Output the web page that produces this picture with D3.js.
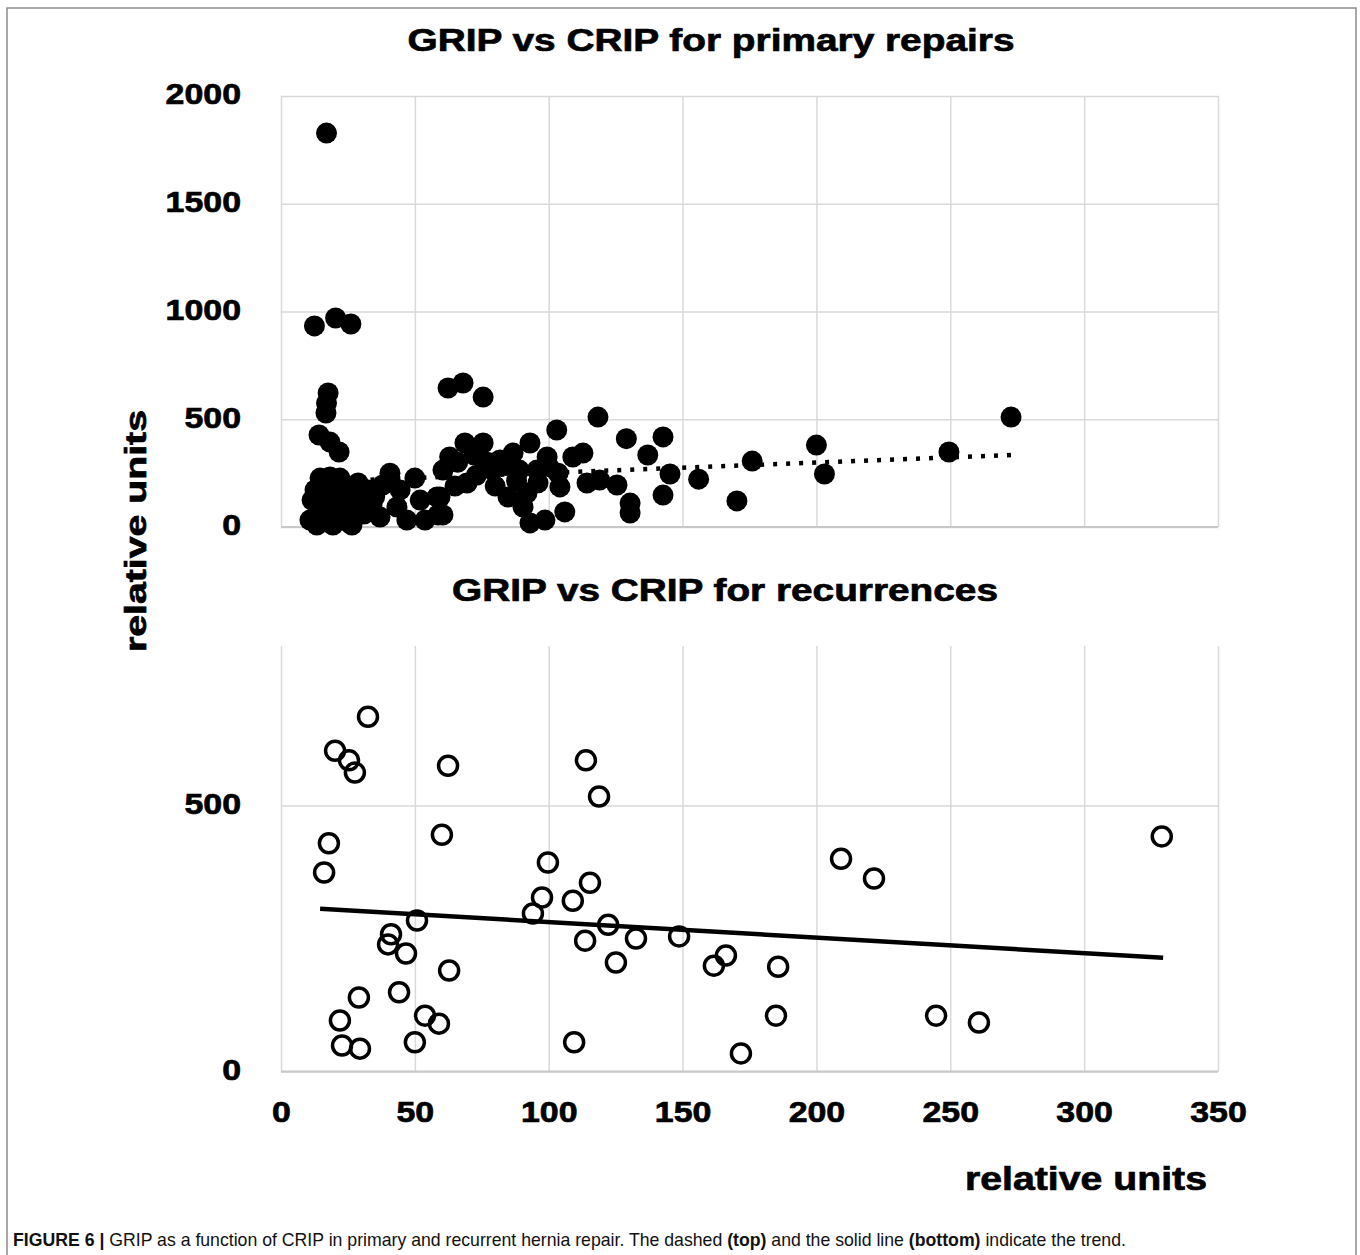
<!DOCTYPE html>
<html>
<head>
<meta charset="utf-8">
<script src="https://cdn.jsdelivr.net/npm/d3@7"></script>
<style>
  body { margin: 0; background: #fff; }
  svg { display: block; font-family: "Liberation Sans", Arial, sans-serif; }
</style>
</head>
<body>
<div id="chart"></div>
<script>
// axis ticks
const xTicks = [0, 50, 100, 150, 200, 250, 300, 350];
const primaryTicks = [0, 500, 1000, 1500, 2000];
const recurrenceTicks = [0, 500];

// GRIP vs CRIP, primary repairs  [CRIP, GRIP]
const primaryPoints = [
  [17, 1828], [12.5, 933], [20.4, 970], [26.1, 942],
  [17.6, 622], [17, 575], [16.8, 529], [14.2, 427], [18.3, 394], [21.7, 348],
  [62.4, 645], [68, 668], [75.5, 603],
  [10.8, 32], [11.6, 125], [12.7, 172], [14.6, 227], [15.3, 102], [16.4, 32],
  [17.6, 195], [18.3, 232], [19, 125], [20.2, 56], [21.3, 172], [22, 227],
  [23.9, 102], [25, 23], [25.8, 162], [27.6, 70], [28.8, 204], [29.5, 125],
  [13.8, 70], [16.4, 135], [22.8, 70], [19.4, 9], [13.4, 9], [26.5, 9],
  [32.5, 172], [34, 102], [37, 46], [40.7, 250], [43.3, 93], [47, 32],
  [50, 227], [52, 125], [53.8, 32], [58.3, 139], [58.6, 56], [38, 195], [44.5, 172],
  [59.4, 139], [60.5, 56], [60.5, 264], [63, 325], [68.7, 390], [75.5, 390],
  [69.5, 204], [79, 264], [81.8, 311], [86.7, 343], [89, 264], [93, 390],
  [95.6, 264], [99.4, 325], [84.8, 139], [91.9, 158], [90.4, 93], [93, 19],
  [98.6, 32], [106, 70], [103.5, 250], [104.2, 186], [109, 325], [112.8, 343],
  [114.3, 204], [119, 218], [125.5, 195], [130.4, 111], [130.4, 65],
  [103, 450], [118.4, 510], [129, 410], [142.7, 418], [137, 334], [145.3, 246],
  [142.7, 148], [156, 222], [176, 306], [170.3, 121], [200, 380], [203, 246],
  [249.5, 348], [272.7, 510],
  [66, 300], [72, 335], [77, 300], [84, 285], [88, 215], [96, 205],
  [73, 240], [80, 190], [65, 190], [100, 280], [31, 60], [35, 140], [24, 150]
];
const primaryTrend = [[14, 210], [273, 334]];

// GRIP vs CRIP, recurrences  [CRIP, GRIP]
const recurrencePoints = [
  [32.5, 667], [20.2, 603], [25.4, 585], [27.6, 562], [17.9, 429], [16.1, 374],
  [60.1, 445], [62.4, 575], [99.7, 393], [97.5, 327], [94.1, 297], [109, 321],
  [115.4, 355], [113.9, 585], [118.8, 517], [50.8, 284], [41.1, 258], [40, 239],
  [46.7, 222], [62.8, 190], [44.1, 149], [29.1, 139], [22, 96], [22.8, 49],
  [29.5, 43], [53.8, 105], [59, 90], [50, 55], [109.5, 55], [122.2, 276],
  [132.6, 250], [113.6, 246], [125.1, 205], [148.7, 254], [161.7, 199],
  [166.2, 218], [185.7, 197], [184.9, 105], [171.8, 34], [209.2, 400],
  [221.5, 363], [244.7, 105], [260.7, 92], [329, 442]
];
const recurrenceTrend = [[14.6, 306], [329.5, 214]];

const width = 1360, height = 1255;
const grid = '#d9d9d9';

const svg = d3.select('#chart').append('svg')
  .attr('width', width)
  .attr('height', height);

svg.append('path')
  .attr('d', `M7,${height + 5}V8H1356V${height + 5}`)
  .attr('fill', 'none')
  .attr('stroke', '#8c8c8c')
  .attr('stroke-width', 1.5);

const x = d3.scaleLinear().domain([0, 350]).range([281, 1218]);
const yTop = d3.scaleLinear().domain([0, 2000]).range([527, 96]);
const yBot = d3.scaleLinear().domain([0, 800]).range([1071.5, 646]);

function stretch(sel, k) {
  sel.each(function () {
    const len = this.getComputedTextLength();
    d3.select(this).attr('textLength', len * k).attr('lengthAdjust', 'spacingAndGlyphs');
  });
}

function heavy(sel) {
  sel.attr('font-weight', 'bold').attr('fill', '#000')
    .attr('stroke', '#000').attr('stroke-width', 0.7)
    .attr('font-family', '"Liberation Sans", Arial, sans-serif');
}

function panel(y, yTicks, showX) {
  const g = svg.append('g');
  // vertical gridlines
  g.append('g')
    .attr('transform', `translate(0,${y.range()[0]})`)
    .call(d3.axisBottom(x).tickValues(xTicks).tickSize(-(y.range()[0] - y.range()[1])).tickFormat(''))
    .call(a => a.select('.domain').remove())
    .call(a => a.selectAll('line').attr('stroke', grid).attr('stroke-width', 1.5));
  // horizontal gridlines + labels
  g.append('g')
    .attr('transform', `translate(${x(0)},0)`)
    .call(d3.axisLeft(y).tickValues(yTicks).tickSize(-(x(350) - x(0))).tickPadding(40).tickFormat(d3.format('d')))
    .call(a => a.select('.domain').remove())
    .call(a => a.selectAll('line').attr('stroke', grid).attr('stroke-width', 1.5))
    .call(a => a.selectAll('text')
      .attr('font-size', 30)
      .call(heavy)
      .attr('dy', '0.26em')
      .call(stretch, 1.13));
  g.append('line')
    .attr('x1', x(0)).attr('x2', x(350))
    .attr('y1', y(0)).attr('y2', y(0))
    .attr('stroke', '#c8c8c8').attr('stroke-width', 2);
  if (showX) {
    g.append('g')
      .attr('transform', `translate(0,${y(0)})`)
      .call(d3.axisBottom(x).tickValues(xTicks).tickSize(0).tickPadding(29).tickFormat(d3.format('d')))
      .call(a => a.select('.domain').remove())
      .call(a => a.selectAll('text')
        .attr('font-size', 30)
        .call(heavy)
        .call(stretch, 1.13));
  }
  return g;
}

const topPanel = panel(yTop, primaryTicks, false);
const botPanel = panel(yBot, recurrenceTicks, true);

topPanel.selectAll('circle.pt')
  .data(primaryPoints)
  .join('circle')
  .attr('class', 'pt')
  .attr('cx', d => x(d[0]))
  .attr('cy', d => yTop(d[1]))
  .attr('r', 10.5)
  .attr('fill', '#000');

topPanel.append('path')
  .datum(primaryTrend)
  .attr('d', d3.line().x(d => x(d[0])).y(d => yTop(d[1])))
  .attr('fill', 'none')
  .attr('stroke', '#000')
  .attr('stroke-width', 4.5)
  .attr('stroke-dasharray', '4 9');

botPanel.selectAll('circle.pt')
  .data(recurrencePoints)
  .join('circle')
  .attr('class', 'pt')
  .attr('cx', d => x(d[0]))
  .attr('cy', d => yBot(d[1]))
  .attr('r', 9.5)
  .attr('fill', 'none')
  .attr('stroke', '#000')
  .attr('stroke-width', 3.5);

botPanel.append('path')
  .datum(recurrenceTrend)
  .attr('d', d3.line().x(d => x(d[0])).y(d => yBot(d[1])))
  .attr('fill', 'none')
  .attr('stroke', '#000')
  .attr('stroke-width', 4.5);

// titles and axis labels
function label(txt, tx, ty, size, len, rot) {
  return svg.append('text')
    .attr('transform', `translate(${tx},${ty})` + (rot ? ` rotate(${rot})` : ''))
    .attr('text-anchor', 'middle')
    .attr('font-size', size)
    .call(heavy)
    .attr('textLength', len)
    .attr('lengthAdjust', 'spacingAndGlyphs')
    .text(txt);
}
label('GRIP vs CRIP for primary repairs', 711, 51, 32, 607);
label('GRIP vs CRIP for recurrences', 725, 601, 32, 546);
label('relative units', 146, 531, 30, 242, -90);
label('relative units', 1086, 1190, 33, 242);

// caption
const cap = svg.append('text')
  .attr('font-size', 18)
  .attr('fill', '#111');
cap.append('tspan').attr('font-weight', 'bold').text('FIGURE 6 |');
cap.append('tspan').text(' GRIP as a function of CRIP in primary and recurrent hernia repair. The dashed ');
cap.append('tspan').attr('font-weight', 'bold').text('(top)');
cap.append('tspan').text(' and the solid line ');
cap.append('tspan').attr('font-weight', 'bold').text('(bottom)');
cap.append('tspan').text(' indicate the trend.');
const cw = cap.node().getBBox().width;
cap.attr('transform', `translate(13,1246) scale(${1114 / cw},1)`);
</script>
</body>
</html>
